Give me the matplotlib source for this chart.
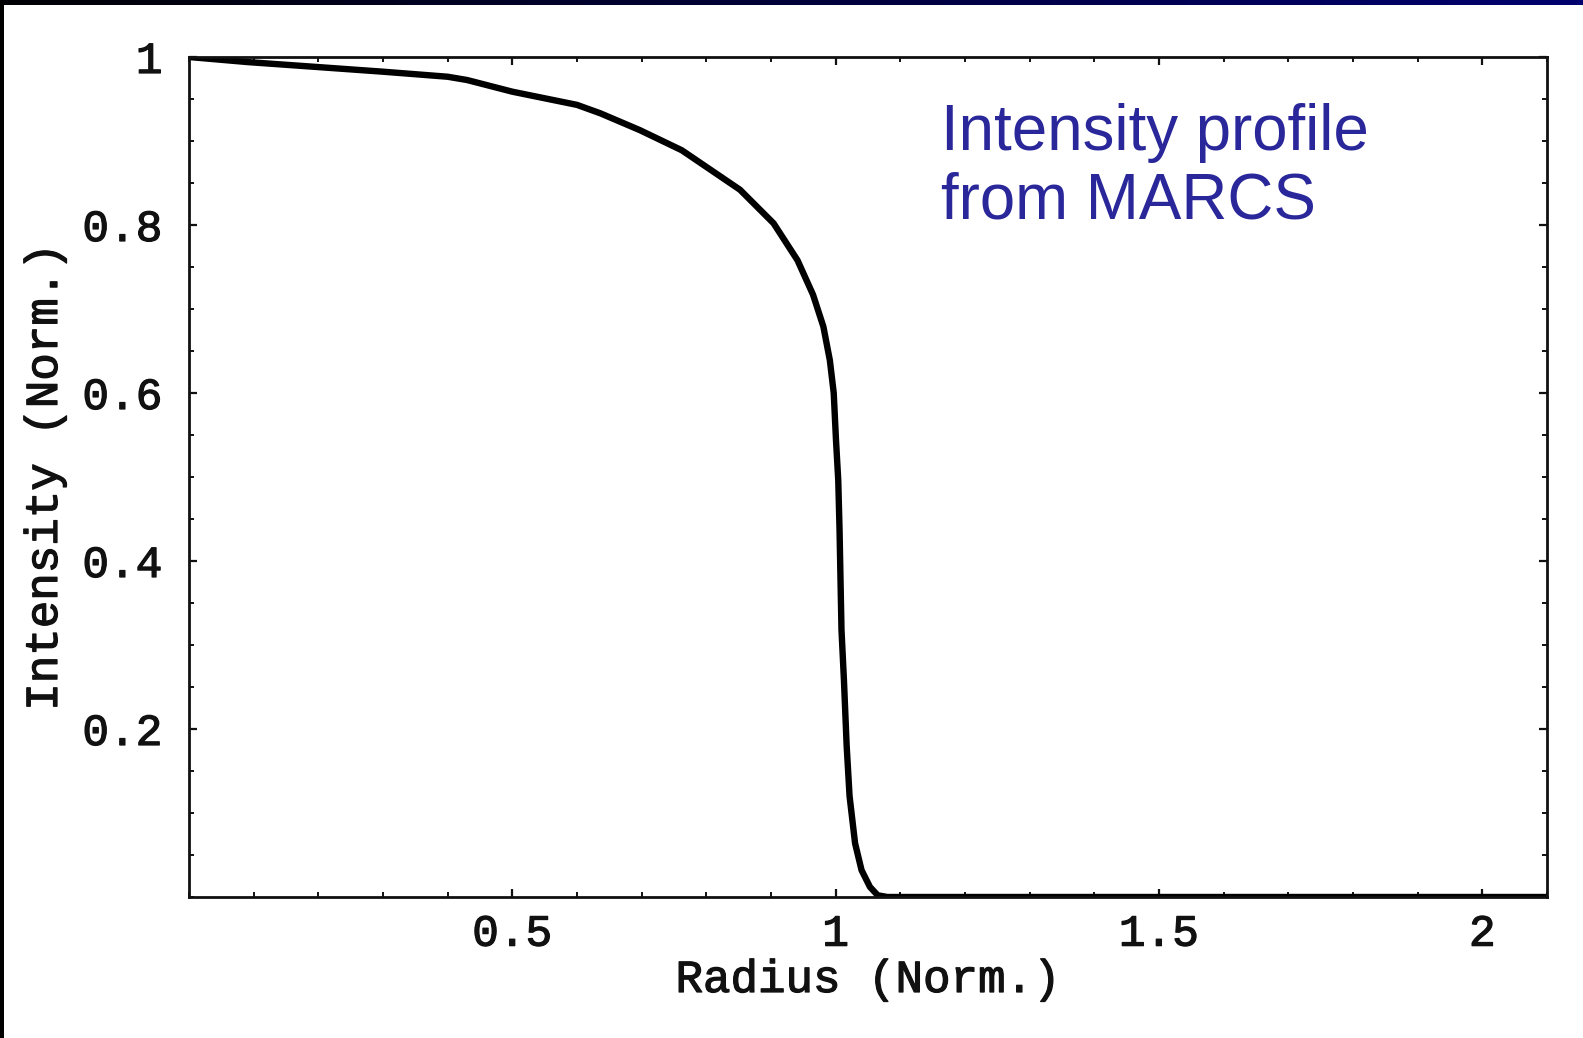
import numpy as np
import matplotlib
matplotlib.use("Agg")
import matplotlib.pyplot as plt
from matplotlib.patches import Rectangle
from matplotlib.colors import LinearSegmentedColormap
from matplotlib.ticker import FixedLocator, MultipleLocator, FixedFormatter
import matplotlib.patheffects as pe

# ---- data ----
radius = [0.0, 0.09, 0.2, 0.3, 0.4, 0.43, 0.5, 0.6, 0.636, 0.697, 0.762, 0.785,
          0.852, 0.904, 0.941, 0.965, 0.981, 0.991, 0.997, 1.0005, 1.004, 1.006,
          1.0075, 1.009, 1.0128, 1.017, 1.0215, 1.030, 1.040, 1.053, 1.065, 1.08,
          1.5, 2.1]
intensity = [1.0, 0.994, 0.988, 0.9825, 0.9765, 0.9726, 0.9587, 0.943, 0.933,
             0.913, 0.889, 0.877, 0.842, 0.802, 0.758, 0.717, 0.679, 0.639, 0.600,
             0.544, 0.496, 0.437, 0.377, 0.318, 0.258, 0.18, 0.12, 0.064, 0.032,
             0.012, 0.002, 0.0, 0.0, 0.0]

x_ticks = [0.5, 1.0, 1.5, 2.0]
x_tick_labels = ["0.5", "1", "1.5", "2"]
y_ticks = [0.2, 0.4, 0.6, 0.8, 1.0]
y_tick_labels = ["0.2", "0.4", "0.6", "0.8", "1"]

x_label = "Radius (Norm.)"
y_label = "Intensity (Norm.)"
note = "Intensity profile\nfrom MARCS"

# ---- figure ----
W, H = 1583, 1038
fig = plt.figure(figsize=(W / 100, H / 100), dpi=100, facecolor="white")

# decorative frame: black strip on left, dark gradient band on top
fig.patches.append(Rectangle((0, 0), 4 / W, 1, transform=fig.transFigure,
                             facecolor="black", edgecolor="none", zorder=5))
band = fig.add_axes([0, 1 - 5 / H, 1, 5 / H])
grad = np.linspace(0, 1, 256)[None, :]
cmap = LinearSegmentedColormap.from_list("band", ["#000005", "#00006e"])
band.imshow(grad, aspect="auto", cmap=cmap, extent=[0, 1, 0, 1])
band.set_axis_off()

ax = fig.add_axes([189 / W, 1 - 897 / H, (1547 - 189) / W, (897 - 57) / H])
ax.plot(radius, intensity, color="black", lw=4.6, solid_capstyle="round",
        solid_joinstyle="round")

ax.set_xlim(0, 2.1)
ax.set_ylim(0, 1)

for sp in ax.spines.values():
    sp.set_linewidth(2.0)
    sp.set_color("#111111")

mono = "Liberation Mono"
ax.xaxis.set_major_locator(FixedLocator(x_ticks))
ax.xaxis.set_major_formatter(FixedFormatter(x_tick_labels))
ax.yaxis.set_major_locator(FixedLocator(y_ticks))
ax.yaxis.set_major_formatter(FixedFormatter(y_tick_labels))
ax.xaxis.set_minor_locator(MultipleLocator(0.1))
ax.yaxis.set_minor_locator(MultipleLocator(0.05))

ax.tick_params(which="both", direction="in", top=True, right=True,
               color="#111111")
ax.tick_params(which="major", length=6, width=1.6)
ax.tick_params(which="minor", length=3.5, width=1.4)
ax.tick_params(axis="x", which="major", pad=12)
ax.tick_params(axis="y", which="major", pad=19)

thick = [pe.withStroke(linewidth=0.9, foreground="#111111")]
for lab in ax.get_xticklabels() + ax.get_yticklabels():
    lab.set_fontfamily(mono)
    lab.set_fontsize(32)
    lab.set_color("#111111")
    lab.set_path_effects(thick)

fig.text(868 / W, 1 - 980 / H, x_label, ha="center", va="center",
         family=mono, fontsize=33, color="#111111", path_effects=thick)
fig.text(45 / W, 1 - 477 / H, y_label, ha="center", va="center",
         rotation=90, family=mono, fontsize=33, color="#111111",
         path_effects=thick)

# va='baseline' aligns to the baseline of the last line
fig.text(941 / W, 1 - 218.5 / H, note, ha="left", va="baseline",
         family="Liberation Sans", fontsize=45.8, color="#29279A",
         linespacing=1.19)

fig.savefig("out.png", dpi=100, facecolor="white")
